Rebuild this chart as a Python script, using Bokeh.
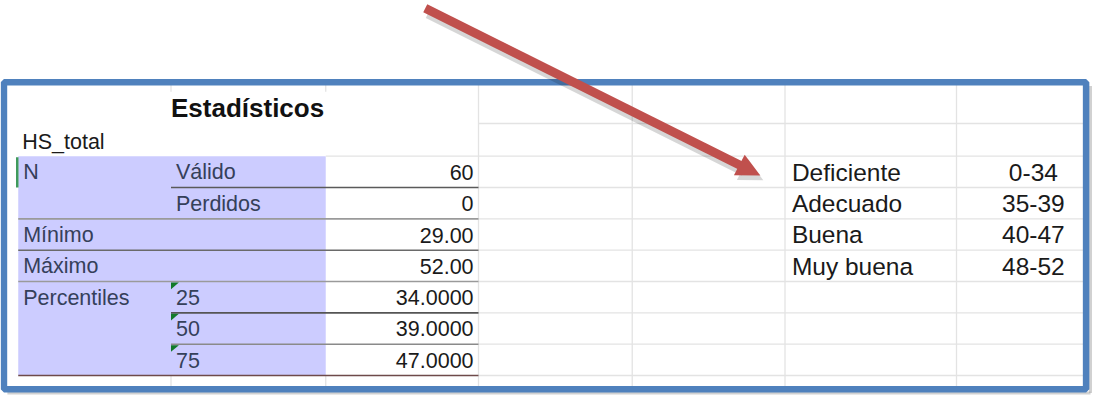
import numpy as np
from bokeh.plotting import figure
from bokeh.models import Range1d
from bokeh.core.properties import value
from bokeh.embed import file_html
from bokeh.resources import INLINE

# ---------------- data ----------------
title = "Estadísticos"
variable = "HS_total"
group_labels = ["N", "", "Mínimo", "Máximo", "Percentiles", "", ""]
sub_labels = ["Válido", "Perdidos", "", "", "25", "50", "75"]
stat_values = ["60", "0", "29.00", "52.00", "34.0000", "39.0000", "47.0000"]
levels = ["Deficiente", "Adecuado", "Buena", "Muy buena"]
level_ranges = ["0-34", "35-39", "40-47", "48-52"]

# ---------------- layout (image pixel coordinates) ----------------
W, H = 1108, 411
col_x = [18, 173, 330, 485, 641, 796, 970]
row_top = 162
row_h = 32.6
n_rows = len(stat_values)
row_edges = [row_top + i * row_h for i in range(n_rows + 1)]

p = figure(width=1092, height=395, x_range=Range1d(0, W), y_range=Range1d(H, 0),
           output_backend="svg", toolbar_location=None, min_border=0,
           x_axis_location=None, y_axis_location=None)
p.grid.visible = False
p.outline_line_color = None
p.background_fill_color = "white"
p.border_fill_color = "white"

FONT = value("Liberation Sans")

# lavender label block
p.quad(left=col_x[0], right=col_x[2], top=row_edges[0], bottom=row_edges[-1],
       fill_color="#CCCCFF", line_color=None)

# light spreadsheet grid
gx0, gy0, gx1, gy1 = [], [], [], []
for x in col_x[3:]:
    gx0.append(x); gy0.append(88); gx1.append(x); gy1.append(402)
for x in col_x[1:3]:
    gx0 += [x, x]; gy0 += [88, row_edges[-1]]; gx1 += [x, x]; gy1 += [95, 402]
gx0.append(col_x[3]); gy0.append(128); gx1.append(1099); gy1.append(128)
gx0.append(col_x[2]); gy0.append(row_edges[0]); gx1.append(1099); gy1.append(row_edges[0])
for y in row_edges[1:]:
    gx0.append(col_x[3]); gy0.append(y); gx1.append(1099); gy1.append(y)
p.segment(x0=gx0, y0=gy0, x1=gx1, y1=gy1, line_color="#e3e3e3", line_width=1.3)

# table rule lines
rule_start = [col_x[1], col_x[0], col_x[0], col_x[0], col_x[1], col_x[1], col_x[0]]
rule_color = ["#5a5a5a", "#9a9a9a", "#6a6a6a", "#9a9a9a", "#555555", "#8a8a8a", "#6e4a4a"]
p.segment(x0=rule_start, y0=row_edges[1:], x1=[col_x[3]] * n_rows, y1=row_edges[1:],
          line_color=rule_color, line_width=1.6)

# green selection mark on N cell
p.segment(x0=[17], y0=[row_edges[0] + 1], x1=[17], y1=[row_edges[1]],
          line_color="#3f9a5c", line_width=2.5)

# green error-indicator triangles on the percentile cells
tri_xs, tri_ys = [], []
for i, s in enumerate(sub_labels):
    if s.isdigit():
        y = row_edges[i] + 1
        tri_xs.append([col_x[1], col_x[1] + 8, col_x[1]])
        tri_ys.append([y, y, y + 7])
p.patches(tri_xs, tri_ys, fill_color="#127a2a", line_color=None)

# texts (vertical middle of each text line)
mid = [r + row_h / 2 + 0.5 for r in row_edges[:-1]]
p.text(x=[173], y=[112], text=[title], text_font=FONT, text_font_size="26px",
       text_font_style="bold", text_color="#111111", text_baseline="middle")
p.text(x=[22], y=[147], text=[variable], text_font=FONT, text_font_size="21.5px",
       text_color="#1a1a1a", text_baseline="middle")
p.text(x=[23] * n_rows, y=mid, text=group_labels, text_font=FONT,
       text_font_size="21.5px", text_color="#35405a", text_baseline="middle")
p.text(x=[178] * n_rows, y=mid, text=sub_labels, text_font=FONT,
       text_font_size="21.5px", text_color="#35405a", text_baseline="middle")
p.text(x=[480] * n_rows, y=mid, text=stat_values, text_font=FONT,
       text_font_size="21.5px", text_color="#1a1a1a", text_baseline="middle",
       text_align="right")

rmid = [178.5 + i * 32.6 for i in range(len(levels))]
p.text(x=[803] * len(levels), y=rmid, text=levels, text_font=FONT,
       text_font_size="24.5px", text_color="#1a1a1a", text_baseline="middle")
p.text(x=[1048] * len(levels), y=rmid, text=level_ranges, text_font=FONT,
       text_font_size="24.5px", text_color="#1a1a1a", text_baseline="middle",
       text_align="center")

# frame shadow and blue frame
p.segment(x0=[7, 1106], y0=[408.5, 89], x1=[1106, 1106], y1=[408.5, 408.5],
          line_color="#9a9a9a", line_width=3, line_alpha=0.45)
p.quad(left=3.5, right=1101.5, top=85, bottom=404.5, fill_color=None,
       line_color="#4F81BD", line_width=6.5)

# red arrow
start = np.array([431.0, 8.0])
tip = np.array([771.0, 182.0])
d = (tip - start) / np.linalg.norm(tip - start)
perp = np.array([-d[1], d[0]])
head_len, head_half = 24.0, 12.0
base = tip - d * head_len
for off, col, alpha, lw in [((3, 5), "#000000", 0.16, 11), ((0, 0), "#C0504D", 1.0, 9)]:
    ox, oy = off
    p.segment(x0=[start[0] + ox], y0=[start[1] + oy], x1=[base[0] + d[0] * 2 + ox],
              y1=[base[1] + d[1] * 2 + oy], line_color=col, line_alpha=alpha,
              line_width=lw, line_cap="butt")
    hx = [tip[0] + ox, base[0] + perp[0] * head_half + ox, base[0] - perp[0] * head_half + ox]
    hy = [tip[1] + oy, base[1] + perp[1] * head_half + oy, base[1] - perp[1] * head_half + oy]
    p.patch(hx, hy, fill_color=col, fill_alpha=alpha, line_color=None)

open("out.html", "w").write(file_html(p, INLINE))
